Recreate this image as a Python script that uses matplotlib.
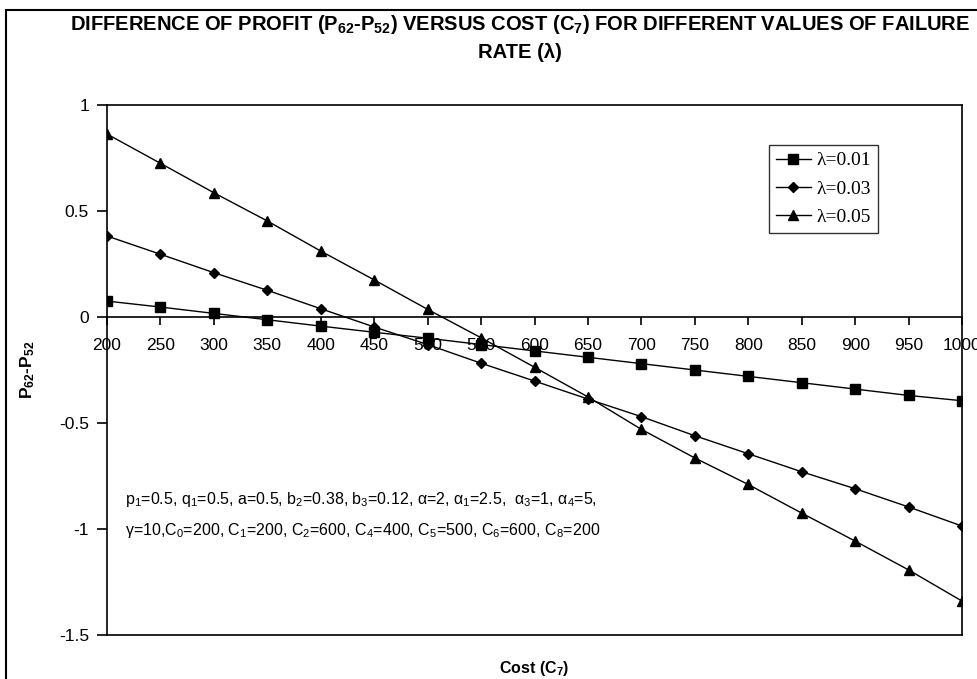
"""Profit difference (P62-P52) versus cost C7 for three failure rates."""
import matplotlib
matplotlib.use("Agg")
import matplotlib.pyplot as plt
from matplotlib.patches import Rectangle

cost = [200, 250, 300, 350, 400, 450, 500, 550, 600, 650, 700, 750, 800, 850, 900, 950, 1000]
diff_001 = [0.075, 0.047, 0.017, -0.013, -0.043, -0.072, -0.10, -0.13, -0.16, -0.19,
            -0.22, -0.25, -0.28, -0.31, -0.34, -0.37, -0.395]
diff_003 = [0.382, 0.296, 0.209, 0.126, 0.039, -0.047, -0.13, -0.218, -0.302, -0.387,
            -0.47, -0.56, -0.645, -0.73, -0.81, -0.896, -0.986]
diff_005 = [0.863, 0.725, 0.586, 0.453, 0.311, 0.175, 0.036, -0.098, -0.237, -0.377,
            -0.53, -0.665, -0.79, -0.925, -1.057, -1.193, -1.34]
series = [("λ=0.01", diff_001, "s", 7), ("λ=0.03", diff_003, "D", 5.5), ("λ=0.05", diff_005, "^", 7.5)]
yticks = [-1.5, -1, -0.5, 0, 0.5, 1]
xticks = cost

plt.rcParams["font.family"] = ["Liberation Sans", "DejaVu Sans"]
plt.rcParams["mathtext.fontset"] = "custom"
plt.rcParams["mathtext.rm"] = "Liberation Sans"
plt.rcParams["mathtext.it"] = "Liberation Sans:italic"
plt.rcParams["mathtext.bf"] = "Liberation Sans:bold"

fig = plt.figure(figsize=(9.77, 6.79), dpi=100)
ax = fig.add_axes([107 / 977, 1 - 635 / 679, 855 / 977, 530 / 679])

for label, vals, mk, ms in series:
    ax.plot(cost, vals, color="black", lw=1, marker=mk, ms=ms, mfc="black", mec="black", label=label)

ax.set_xlim(200, 1000)
ax.set_ylim(-1.5, 1)
ax.set_xticks(xticks)
ax.set_xticklabels([str(c) for c in xticks])
ax.set_yticks(yticks)
ax.set_yticklabels(["-1.5", "-1", "-0.5", "0", "0.5", "1"])

ax.spines["bottom"].set_position(("data", 0))
for s in ax.spines.values():
    s.set_linewidth(1.2)
ax.axhline(-1.5, color="black", lw=1.2, clip_on=False)
ax.tick_params(axis="x", direction="out", length=6, width=1.2, pad=9, labelsize=12.5)
ax.tick_params(axis="y", direction="out", length=7, width=1.2, pad=6, labelsize=12.5)

ax.set_xlabel("Cost (C$_\\mathbf{7}$)", fontsize=11.5, fontweight="bold", va="center")
ax.xaxis.set_label_coords(0.5, -33 / 530)
ax.set_ylabel("P$_\\mathbf{62}$-P$_\\mathbf{52}$", fontsize=12.5, fontweight="bold", va="center")
ax.yaxis.set_label_coords(-79 / 855, 0.5)

fig.text(520 / 977, 1 - 25 / 679,
         "DIFFERENCE OF PROFIT (P$_\\mathbf{62}$-P$_\\mathbf{52}$) VERSUS COST (C$_\\mathbf{7}$) "
         "FOR DIFFERENT VALUES OF FAILURE",
         ha="center", va="center", fontsize=14.5, fontweight="bold")
fig.text(520 / 977, 1 - 53 / 679, "RATE (λ)", ha="center", va="center", fontsize=14.5, fontweight="bold")

ax.text(18 / 855, 0.255,
        "p$_1$=0.5, q$_1$=0.5, a=0.5, b$_2$=0.38, b$_3$=0.12, α=2, α$_1$=2.5,  α$_3$=1, α$_4$=5,",
        transform=ax.transAxes, fontsize=11.5, va="center")
ax.text(18 / 855, 0.198,
        "γ=10,C$_0$=200, C$_1$=200, C$_2$=600, C$_4$=400, C$_5$=500, C$_6$=600, C$_8$=200",
        transform=ax.transAxes, fontsize=11.5, va="center")

leg = ax.legend(loc="upper right", bbox_to_anchor=((878 - 107) / 855, 1 - 40 / 530),
                bbox_transform=ax.transAxes, frameon=True, fancybox=False,
                edgecolor="black", prop={"family": "Liberation Serif", "size": 14},
                handlelength=1.8, handletextpad=0.3, borderpad=0.35, labelspacing=0.55,
                borderaxespad=0)
leg.get_frame().set_linewidth(1.0)

fig.patches.append(Rectangle((6 / 977, -0.1), 1.2, 1 - 10 / 679 + 0.1, transform=fig.transFigure,
                             fill=False, edgecolor="black", lw=1.5))

fig.savefig("out.png", dpi=100)
